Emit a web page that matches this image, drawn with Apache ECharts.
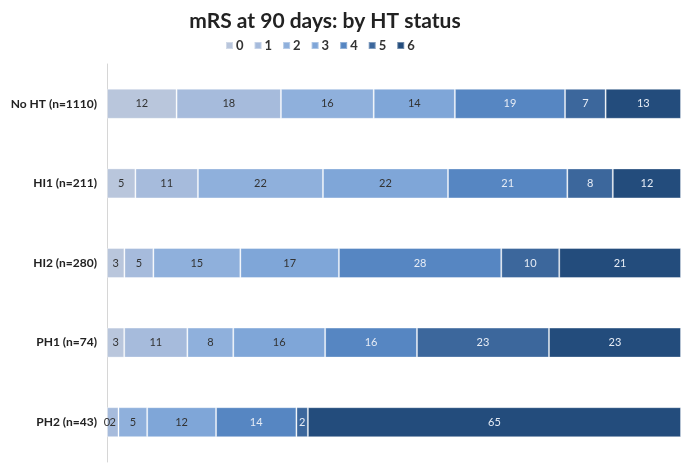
<!DOCTYPE html>
<html>
<head>
<meta charset="utf-8">
<script src="https://cdn.jsdelivr.net/npm/echarts@6/dist/echarts.min.js"></script>
<style>
	html, body { margin: 0; padding: 0; background: #fff; }
	#main { width: 694px; height: 464px; }
</style>
</head>
<body>
<div id="main"></div>
<script>
	// rows of the chart, top to bottom
	var groups = ['No HT (n=1110)', 'HI1 (n=211)', 'HI2 (n=280)', 'PH1 (n=74)', 'PH2 (n=43)']
	// mRS score names (legend)
	var scores = ['0', '1', '2', '3', '4', '5', '6']
	// percent per group for each mRS score
	var mrs0 = [12, 5, 3, 3, 0]
	var mrs1 = [18, 11, 5, 11, 2]
	var mrs2 = [16, 22, 15, 8, 5]
	var mrs3 = [14, 22, 17, 16, 12]
	var mrs4 = [19, 21, 28, 16, 14]
	var mrs5 = [7, 8, 10, 23, 2]
	var mrs6 = [13, 12, 21, 23, 65]

	var colors = ['#b9c6dc', '#a6bbdc', '#8fb0dc', '#7fa6d8', '#5686c2', '#3c679c', '#234c7c']
	var labelColors = ['#333', '#333', '#333', '#333', '#e6ecf5', '#e6ecf5', '#e6ecf5']
	var all = [mrs0, mrs1, mrs2, mrs3, mrs4, mrs5, mrs6]

	// rows do not sum to exactly 100, so scale each row to full width (100% stacked)
	var rowSum = groups.map(function (g, i) {
		return all.reduce(function (s, arr) { return s + arr[i] }, 0)
	})

	var series = all.map(function (arr, k) {
		return {
			name: scores[k],
			type: 'bar',
			stack: 'mrs',
			barWidth: 30,
			itemStyle: {
				color: colors[k],
				borderColor: 'rgba(255,255,255,0.35)',
				borderWidth: 1
			},
			label: {
				show: true,
				position: 'inside',
				color: labelColors[k],
				fontSize: 11,
				fontFamily: 'Lato',
				formatter: function (p) { return arr[p.dataIndex] }
			},
			data: arr.map(function (v, i) { return v / rowSum[i] * 100 })
		}
	})

	var option = {
		animation: false,
		title: {
			text: 'mRS at 90 days: by HT status',
			left: 320,
			textAlign: 'center',
			top: 6,
			textStyle: {
				fontFamily: 'Lato',
				fontSize: 21,
				fontWeight: 'bold',
				color: '#222'
			}
		},
		legend: {
			data: scores,
			left: 320,
			top: 34,
			itemWidth: 7,
			itemHeight: 7,
			itemGap: 10,
			icon: 'rect',
			textStyle: {
				fontFamily: 'Lato',
				fontSize: 13,
				fontWeight: 'bold',
				color: '#333',
				padding: [0, 0, 0, -2]
			}
		},
		grid: {
			left: 107,
			right: 13,
			top: 64,
			bottom: 2
		},
		xAxis: {
			type: 'value',
			min: 0,
			max: 100,
			show: false
		},
		yAxis: {
			type: 'category',
			inverse: true,
			data: groups,
			axisLine: {
				show: true,
				lineStyle: { color: '#d6d6d6' }
			},
			axisTick: { show: false },
			axisLabel: {
				margin: 10,
				color: '#222',
				fontFamily: 'Lato',
				fontSize: 12,
				fontWeight: 'bold'
			}
		},
		series: series
	}

	var chart = echarts.init(document.getElementById('main'))
	chart.setOption(option)
	// center the legend around the title
	var w = chart.getModel().getComponent('legend')
	setTimeout(function () {
		var view = chart.getViewOfComponentModel(w)
		if (view && view.group) {
			var r = view.group.getBoundingRect()
			chart.setOption({ legend: { left: Math.round(320 - r.width / 2) } })
		}
	}, 0)
</script>
</body>
</html>
